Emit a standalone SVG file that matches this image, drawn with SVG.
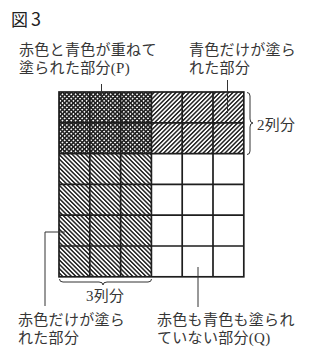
<svg xmlns="http://www.w3.org/2000/svg" width="320" height="347" viewBox="0 0 320 347">
<style>
.t{font-family:"Noto Sans CJK JP","Noto Sans",sans-serif;font-size:15px;fill:#363636;letter-spacing:0.3px}
.s{font-family:"Liberation Serif",serif}
.g{stroke:#1e1e1e;stroke-width:1.7;fill:none}
.l{stroke:#333;stroke-width:1;fill:none}
</style>
<defs>
<pattern id="bk" patternUnits="userSpaceOnUse" width="3.1" height="3.1" patternTransform="rotate(-45)">
<rect x="0" y="0" width="3.1" height="3.1" fill="#fff"/>
<rect x="0" y="0" width="1.5" height="3.1" fill="#222"/>
</pattern>
<pattern id="fw" patternUnits="userSpaceOnUse" width="3.1" height="3.1" patternTransform="rotate(45)">
<rect x="0" y="0" width="3.1" height="3.1" fill="#fff"/>
<rect x="0" y="0" width="1.5" height="3.1" fill="#222"/>
</pattern>
<pattern id="fwo" patternUnits="userSpaceOnUse" width="3.1" height="3.1" patternTransform="rotate(45)">
<rect x="0" y="0" width="1.6" height="3.1" fill="#222"/>
</pattern>
</defs>
<g id="title"><text y="26" style="font-family:'Noto Sans CJK JP',sans-serif;font-size:17px;fill:#222"><tspan x="11">図</tspan><tspan x="31" style="font-size:18px">3</tspan></text></g>
<g id="grid">
<rect x="59" y="92" width="92.4" height="61.6" fill="url(#bk)"/>
<rect x="59" y="92" width="92.4" height="61.6" fill="url(#fwo)"/>
<rect x="151.4" y="92" width="92.4" height="61.6" fill="url(#fw)"/>
<rect x="59" y="153.6" width="92.4" height="123.2" fill="url(#bk)"/>
<path class="g" d="M89.8 92V276.8M120.6 92V276.8M151.4 92V276.8M182.2 92V276.8M213 92V276.8M59 122.8H243.8M59 153.6H243.8M59 184.4H243.8M59 215.2H243.8M59 246H243.8"/>
<rect class="g" x="59" y="92" width="184.8" height="184.8" stroke-width="2"/>
</g>
<g id="braces" class="l">
<path d="M247 92.5Q250 92.5 250 96V119Q250 123 253 123Q250 123 250 127V151Q250 154.5 247 154.5"/>
<path d="M59.5 279Q59.5 282 63 282H99Q103 282 103 285Q103 282 107 282H148Q151.5 282 151.5 279"/>
</g>
<g id="connectors" class="l">
<path d="M101.5 84V100"/>
<path d="M227.5 80V113"/>
<path d="M65 232H45V306"/>
<path d="M198 267V307"/>
</g>
<g id="label-p"><text class="t" x="19" y="55">赤色と青色が重ねて</text><text class="t" x="19" y="73">塗られた部分<tspan class="s">(P)</tspan></text></g>
<g id="label-blue"><text class="t" x="189" y="55">青色だけが塗ら</text><text class="t" x="189" y="73">れた部分</text></g>
<g id="label-2"><text class="t" x="257" y="130"><tspan class="s">2</tspan>列分</text></g>
<g id="label-3"><text class="t" x="86" y="301"><tspan class="s">3</tspan>列分</text></g>
<g id="label-red"><text class="t" x="18" y="325">赤色だけが塗ら</text><text class="t" x="18" y="343">れた部分</text></g>
<g id="label-q"><text class="t" x="157" y="325">赤色も青色も塗られ</text><text class="t" x="157" y="343">ていない部分<tspan class="s">(Q)</tspan></text></g>
</svg>
